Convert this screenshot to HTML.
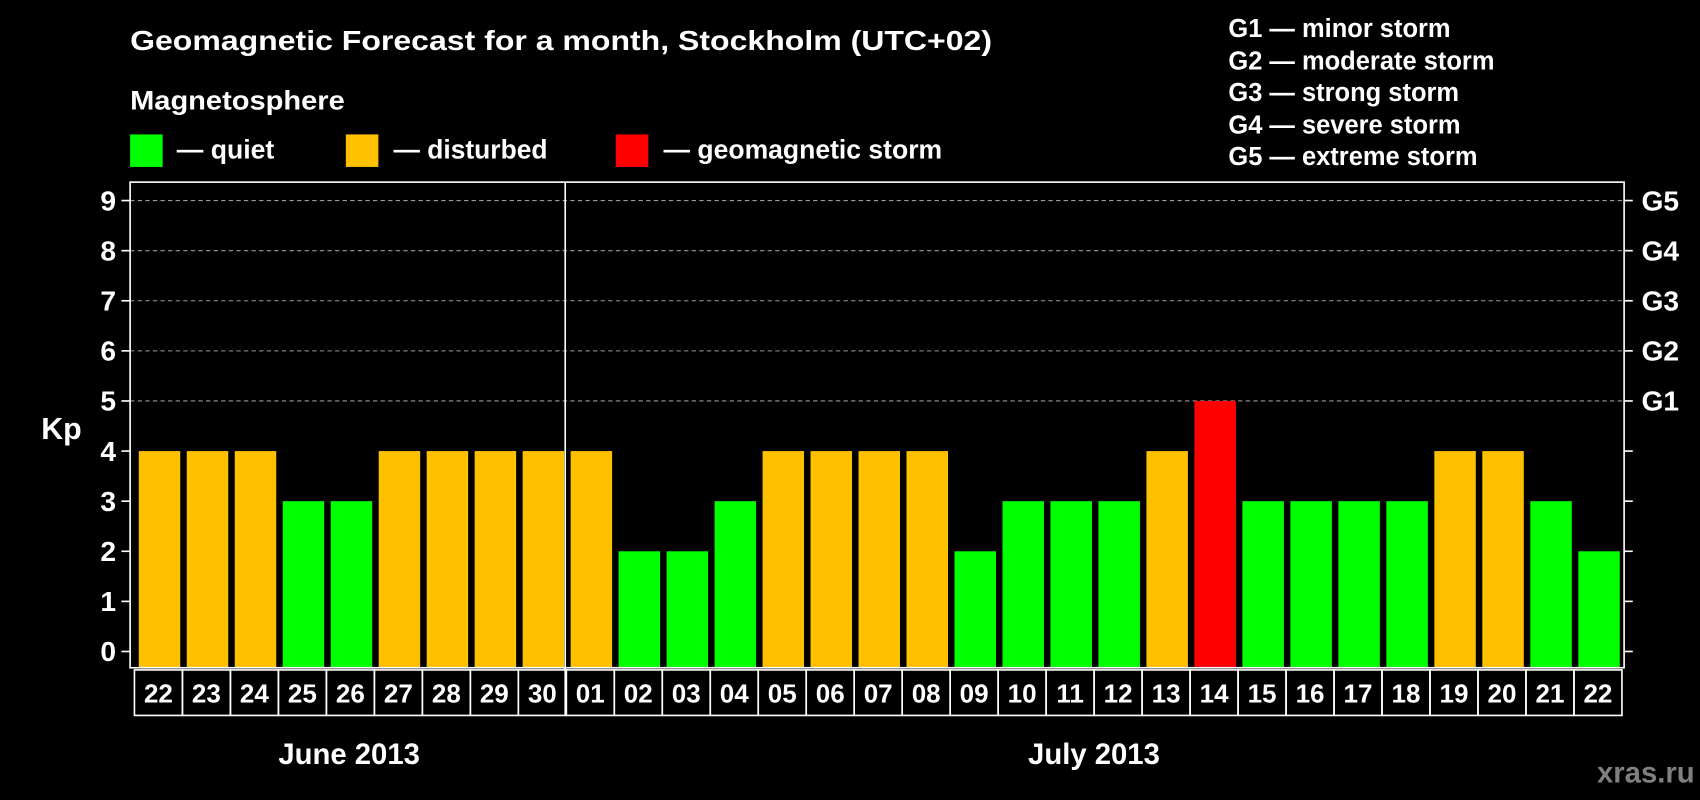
<!DOCTYPE html>
<html><head><meta charset="utf-8"><style>
html,body{margin:0;padding:0;background:#000;}
svg{display:block;font-family:"Liberation Sans",Arial,sans-serif;font-weight:bold;}
</style></head><body>
<svg id="chart" width="1700" height="800" viewBox="0 0 1568 738" preserveAspectRatio="none" xmlns="http://www.w3.org/2000/svg">
<rect x="0" y="0" width="1568" height="738" fill="#000"/>
<text x="120" y="46" fill="#fff" font-size="26" textLength="795" lengthAdjust="spacingAndGlyphs">Geomagnetic Forecast for a month, Stockholm (UTC+02)</text>
<text x="120" y="101" fill="#fff" font-size="25" textLength="198" lengthAdjust="spacingAndGlyphs">Magnetosphere</text>
<rect x="120" y="124" width="30" height="30" fill="#00ff00"/>
<text x="163" y="146" fill="#fff" font-size="25" textLength="90" lengthAdjust="spacingAndGlyphs">— quiet</text>
<rect x="319" y="124" width="30" height="30" fill="#ffc000"/>
<text x="363" y="146" fill="#fff" font-size="25" textLength="142" lengthAdjust="spacingAndGlyphs">— disturbed</text>
<rect x="568" y="124" width="30" height="30" fill="#ff0000"/>
<text x="612" y="146" fill="#fff" font-size="25" textLength="257" lengthAdjust="spacingAndGlyphs">— geomagnetic storm</text>
<g fill="#fff" font-size="23.5">
<text x="1133" y="34">G1 — minor storm</text>
<text x="1133" y="64">G2 — moderate storm</text>
<text x="1133" y="93">G3 — strong storm</text>
<text x="1133" y="123">G4 — severe storm</text>
<text x="1133" y="152">G5 — extreme storm</text>
</g>
<text x="38" y="405" fill="#fff" font-size="28">Kp</text>
<g id="plot"></g>
<text x="322" y="705" fill="#fff" font-size="27" text-anchor="middle">June 2013</text>
<text x="1009" y="705" fill="#fff" font-size="27" text-anchor="middle">July 2013</text>
<text x="1473" y="722" fill="#808080" font-size="27">xras.ru</text>
</svg>
<script>
const days = ["22","23","24","25","26","27","28","29","30","01","02","03","04","05","06","07","08","09","10","11","12","13","14","15","16","17","18","19","20","21","22"];
const kpValues = [4,4,4,3,3,4,4,4,4,4,2,2,3,4,4,4,4,2,3,3,3,4,5,3,3,3,3,4,4,3,2];
const yTicks = [0,1,2,3,4,5,6,7,8,9];
const gLabels = ["G1","G2","G3","G4","G5"];
const gLevels = [5,6,7,8,9];
const monthBreakIndex = 9;

const NS = "http://www.w3.org/2000/svg";
const g = document.getElementById('plot');
const L = 120, R = 1498, T = 168, B = 616;
const boxL = 124, boxW = (1496 - 124) / days.length;
const y = v => 601 - v * 46.22;
const x = i => boxL + i * boxW;
function mk(tag, attrs) {
  const e = document.createElementNS(NS, tag);
  for (const k in attrs) e.setAttribute(k, attrs[k]);
  g.appendChild(e);
  return e;
}
gLevels.forEach(v => {
  const l = mk('line', {x1: L, x2: R, y1: y(v), y2: y(v), stroke: '#999', 'stroke-width': 1, 'stroke-dasharray': '4,3'});
  
  
});
kpValues.forEach((v, i) => {
  const col = v >= 5 ? '#ff0000' : (v >= 4 ? '#ffc000' : '#00ff00');
  const r = mk('rect', {x: x(i) + 4, y: y(v), width: boxW - 6, height: B - y(v), fill: col});
  
  
});
const fr = mk('rect', {x: L, y: T, width: R - L, height: B - T, fill: 'none', stroke: '#fff', 'stroke-width': 1.5});


yTicks.forEach(v => {
  mk('line', {x1: L - 8, x2: L, y1: y(v), y2: y(v), stroke: '#fff', 'stroke-width': 1.5});
  mk('line', {x1: R, x2: R + 8, y1: y(v), y2: y(v), stroke: '#fff', 'stroke-width': 1.5});
  const t = mk('text', {x: 107, y: y(v) + 9, fill: '#fff', 'font-size': 26, 'text-anchor': 'end'});
  t.textContent = v;
  
  
});
gLabels.forEach((lab, i) => {
  const t = mk('text', {x: 1514, y: y(gLevels[i]) + 9, fill: '#fff', 'font-size': 26});
  t.textContent = lab;
  
  
});
days.forEach((d, i) => {
  const r = mk('rect', {x: x(i), y: 618, width: boxW, height: 42, fill: 'none', stroke: '#fff', 'stroke-width': 1.5});
  
  
  const t = mk('text', {x: x(i) + boxW / 2, y: 648, fill: '#fff', 'font-size': 24, 'text-anchor': 'middle'});
  t.textContent = d;
  
  
});
const dx = x(monthBreakIndex) - 1;
const dv = mk('line', {x1: dx, x2: dx, y1: T, y2: 660, stroke: '#fff', 'stroke-width': 1.5});


</script>
</body></html>
